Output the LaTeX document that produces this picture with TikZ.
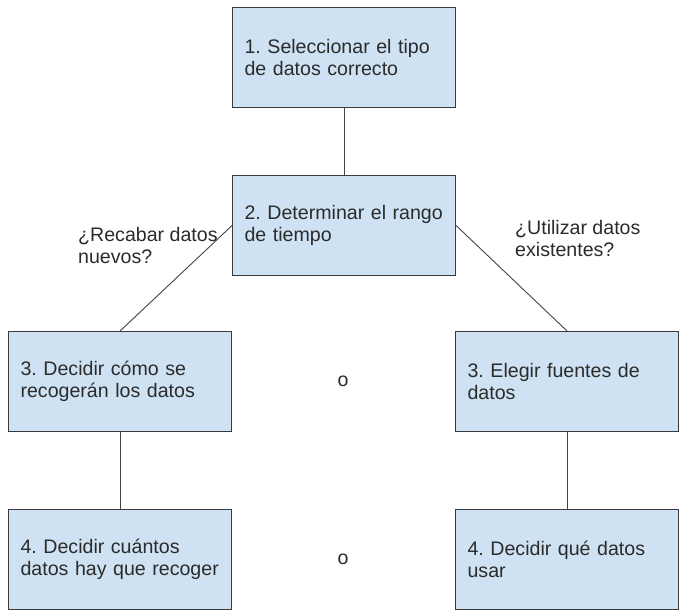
\documentclass[tikz,border=0pt]{standalone}
\usepackage{fontspec}
\setmainfont{Liberation Sans}
\frenchspacing
\begin{document}
\begin{tikzpicture}[x=1pt,y=-1pt,
  stepbox/.style={draw=boxline, line width=1.1pt, fill=boxfill, anchor=north west,
    text width=199pt, inner xsep=12pt, inner ysep=0pt, minimum height=100pt,
    align=left, text=txt, font=\fontsize{19.6}{22}\selectfont},
  link/.style={draw=linkcol, line width=0.9pt},
  note/.style={text=txt, inner sep=0pt, align=left, font=\fontsize{19.6}{22}\selectfont}]
  \definecolor{boxfill}{HTML}{CFE2F3}
  \definecolor{boxline}{HTML}{3A3A3A}
  \definecolor{linkcol}{HTML}{444444}
  \definecolor{txt}{HTML}{2B2B2B}
  \useasboundingbox (0,0) rectangle (684,613);

  % step boxes
  \node[stepbox] (b1)  at (232,7)   {1. Seleccionar el tipo\\de datos correcto};
  \node[stepbox] (b2)  at (232,175) {2. Determinar el rango\\de tiempo};
  \node[stepbox] (b3l) at (8,331)   {3. Decidir cómo se\\recogerán los datos};
  \node[stepbox] (b3r) at (455,331) {3. Elegir fuentes de\\datos};
  \node[stepbox] (b4l) at (8,509)   {4. Decidir cuántos\\datos hay que recoger};
  \node[stepbox] (b4r) at (455,509) {4. Decidir qué datos\\usar};

  % connectors
  \draw[link] (b1.south) -- (b2.north);
  \draw[link] (b2.west) -- (b3l.north);
  \draw[link] (b2.east) -- (b3r.north);
  \draw[link] (b3l.south) -- (b4l.north);
  \draw[link] (b3r.south) -- (b4r.north);

  % branch questions
  \node[note, anchor=base west] (q1) at (78,263) {¿Recabar datos\\nuevos?};
  \node[note, anchor=base west] (q2) at (515,256) {¿Utilizar datos\\existentes?};

  % alternatives
  \node[note] (o1) at (343,381) {o};
  \node[note] (o2) at (343,559) {o};
\end{tikzpicture}
\end{document}
